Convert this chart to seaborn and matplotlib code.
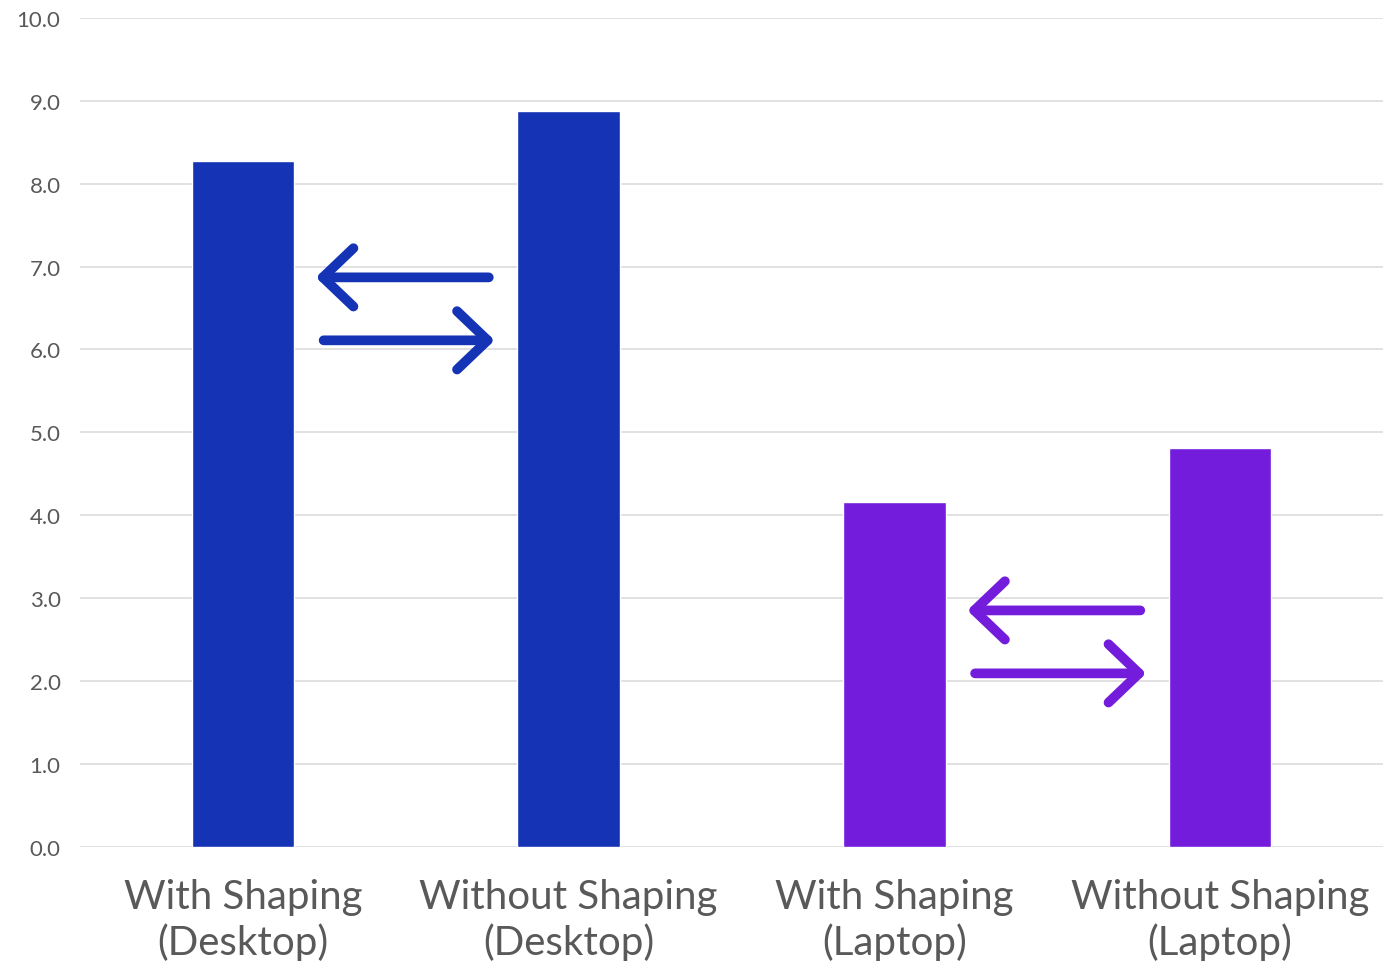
import matplotlib
matplotlib.use("Agg")
import matplotlib.pyplot as plt
import seaborn as sns
import pandas as pd

categories = ["With Shaping\n(Desktop)", "Without Shaping\n(Desktop)",
              "With Shaping\n(Laptop)", "Without Shaping\n(Laptop)"]
values = [8.27, 8.88, 4.16, 4.81]
bar_colors = ["#1433B5", "#1433B5", "#731CDB", "#731CDB"]
y_ticks = [0, 1, 2, 3, 4, 5, 6, 7, 8, 9, 10]

# comparison arrows: (left bar index, y of left-pointing arrow, y of right-pointing arrow, colour)
arrow_pairs = [(0, 6.87, 6.11, "#1433B5"), (2, 2.85, 2.09, "#731CDB")]

sns.set_theme(style="white")
plt.rcParams['font.family'] = ['Lato', 'DejaVu Sans']

df = pd.DataFrame({"cat": categories, "val": values})

fig = plt.figure(figsize=(13.91, 9.62), dpi=100)
ax = fig.add_axes([0.0575, 0.119, 0.9367, 0.8612])

sns.barplot(data=df, x="cat", y="val", hue="cat", palette=bar_colors,
            width=0.315, legend=False, saturation=1, ax=ax, zorder=3)

ax.set_ylim(0, 10)
ax.set_xlim(-0.5, 3.5)
ax.set_yticks(y_ticks)
ax.set_yticklabels([f"{t:.1f}" for t in y_ticks])
ax.yaxis.grid(True, color="#D9D9D9", lw=1.1, zorder=0)
ax.set_axisbelow(True)
for s in ax.spines.values():
    s.set_visible(False)
ax.set_xlabel("")
ax.set_ylabel("")
ax.tick_params(axis="y", length=0, pad=14, labelsize=16, labelcolor="#595959")
ax.tick_params(axis="x", length=0, pad=23, labelsize=29, labelcolor="#595959")
for lab in ax.get_xticklabels():
    lab.set_linespacing(1.22)

for i, y_left, y_right, c in arrow_pairs:
    props = dict(arrowstyle="->,head_length=22,head_width=21", lw=7, color=c,
                 capstyle="round", joinstyle="round", mutation_scale=1,
                 shrinkA=0, shrinkB=0)
    ax.annotate("", xy=(i + 0.224, y_left), xytext=(i + 0.755, y_left),
                arrowprops=props, zorder=4)
    ax.annotate("", xy=(i + 0.773, y_right), xytext=(i + 0.248, y_right),
                arrowprops=props, zorder=4)

plt.savefig("out.png", dpi=100)
